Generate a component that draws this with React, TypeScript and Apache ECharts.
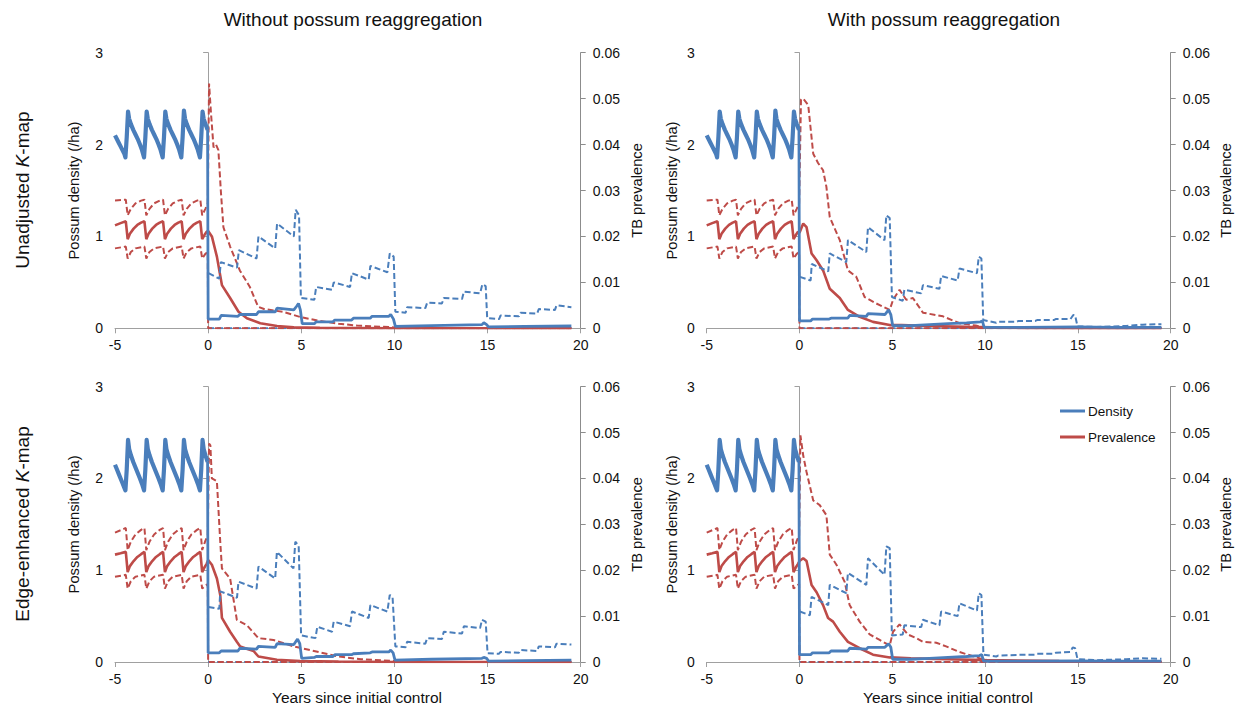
import React, { useEffect, useRef } from "react";
import * as echarts from "echarts";

const FONT = "'Liberation Sans', Arial, sans-serif";
const BLUE = "#4a7ebb";
const RED = "#be4b48";
const AXIS = "#a0a0a0";

const X_TICKS = [-5, 20, 5];
const COL_TITLES = ["Without possum reaggregation", "With possum reaggregation"];
const ROW_TITLES = [["Unadjusted ", "K", "-map"], ["Edge-enhanced ", "K", "-map"]];
const LEFT_NAME = "Possum density (/ha)";
const RIGHT_NAME = "TB prevalence";
const X_NAME = "Years since initial control";
const LEGEND = ["Density", "Prevalence"];

// ---- pre-control (years -5..0) ----
const DENS_PRE_TOP = [
  [-5, 2.1], [-4.9, 2.06], [-4.8, 2.02], [-4.7, 1.98], [-4.6, 1.94], [-4.5, 1.9], [-4.44, 1.86],
  [-4.37, 2.08], [-4.3, 2.36], [-4.24, 2.28], [-4.14, 2.22], [-4.02, 2.16], [-3.9, 2.11], [-3.78, 2.06], [-3.66, 2.0], [-3.55, 1.94], [-3.44, 1.86],
  [-3.37, 2.08], [-3.3, 2.36], [-3.24, 2.28], [-3.14, 2.22], [-3.02, 2.16], [-2.9, 2.11], [-2.78, 2.06], [-2.66, 2.0], [-2.55, 1.94], [-2.44, 1.86],
  [-2.37, 2.08], [-2.3, 2.36], [-2.24, 2.28], [-2.14, 2.22], [-2.02, 2.16], [-1.9, 2.11], [-1.78, 2.06], [-1.66, 2.0], [-1.55, 1.94], [-1.44, 1.86],
  [-1.37, 2.08], [-1.3, 2.37], [-1.24, 2.28], [-1.14, 2.22], [-1.02, 2.16], [-0.9, 2.11], [-0.78, 2.06], [-0.66, 2.0], [-0.55, 1.94], [-0.44, 1.86],
  [-0.37, 2.08], [-0.3, 2.36], [-0.24, 2.28], [-0.14, 2.22], [-0.03, 2.16],
];
const DENS_PRE_BOT = [
  [-5, 2.15], [-4.9, 2.1], [-4.8, 2.05], [-4.7, 2.0], [-4.6, 1.95], [-4.5, 1.9], [-4.44, 1.87],
  [-4.37, 2.1], [-4.3, 2.42], [-4.24, 2.32], [-4.14, 2.25], [-4.02, 2.18], [-3.9, 2.12], [-3.78, 2.06], [-3.66, 2.0], [-3.55, 1.94], [-3.44, 1.87],
  [-3.37, 2.1], [-3.3, 2.42], [-3.24, 2.32], [-3.14, 2.25], [-3.02, 2.18], [-2.9, 2.12], [-2.78, 2.06], [-2.66, 2.0], [-2.55, 1.94], [-2.44, 1.87],
  [-2.37, 2.1], [-2.3, 2.42], [-2.24, 2.32], [-2.14, 2.25], [-2.02, 2.18], [-1.9, 2.12], [-1.78, 2.06], [-1.66, 2.0], [-1.55, 1.94], [-1.44, 1.87],
  [-1.37, 2.1], [-1.3, 2.42], [-1.24, 2.32], [-1.14, 2.25], [-1.02, 2.18], [-0.9, 2.12], [-0.78, 2.06], [-0.66, 2.0], [-0.55, 1.94], [-0.44, 1.87],
  [-0.37, 2.1], [-0.3, 2.42], [-0.24, 2.32], [-0.14, 2.25], [-0.03, 2.18],
];
const PREV_PRE_TOP = [
  [-5, 0.0224], [-4.7, 0.0229], [-4.42, 0.0233], [-4.32, 0.0194], [-4.2, 0.0206], [-4.0, 0.0217], [-3.8, 0.0225], [-3.6, 0.023], [-3.42, 0.0233],
  [-3.32, 0.0194], [-3.2, 0.0206], [-3.0, 0.0217], [-2.8, 0.0225], [-2.6, 0.023], [-2.42, 0.0233],
  [-2.32, 0.0194], [-2.2, 0.0206], [-2.0, 0.0217], [-1.8, 0.0225], [-1.6, 0.023], [-1.42, 0.0233],
  [-1.32, 0.0194], [-1.2, 0.0206], [-1.0, 0.0217], [-0.8, 0.0225], [-0.6, 0.023], [-0.42, 0.0233],
  [-0.32, 0.0194], [-0.2, 0.0203], [-0.08, 0.021],
];
const PREV_UP_PRE_TOP = [
  [-5, 0.0278], [-4.42, 0.028], [-4.32, 0.0246], [-4.15, 0.026], [-3.9, 0.0272], [-3.6, 0.0278], [-3.42, 0.028],
  [-3.32, 0.0246], [-3.15, 0.026], [-2.9, 0.0272], [-2.6, 0.0278], [-2.42, 0.028],
  [-2.32, 0.0246], [-2.15, 0.026], [-1.9, 0.0272], [-1.6, 0.0278], [-1.42, 0.028],
  [-1.32, 0.0246], [-1.15, 0.026], [-0.9, 0.0272], [-0.6, 0.0278], [-0.42, 0.028],
  [-0.32, 0.0246], [-0.15, 0.026], [-0.02, 0.0272],
];
const PREV_LO_PRE_TOP = [
  [-5, 0.0174], [-4.42, 0.0178], [-4.32, 0.0152], [-4.15, 0.0166], [-3.9, 0.0174], [-3.42, 0.0178],
  [-3.32, 0.0152], [-3.15, 0.0166], [-2.9, 0.0174], [-2.42, 0.0178],
  [-2.32, 0.0152], [-2.15, 0.0166], [-1.9, 0.0174], [-1.42, 0.0178],
  [-1.32, 0.0152], [-1.15, 0.0166], [-0.9, 0.0174], [-0.42, 0.0178],
  [-0.32, 0.0152], [-0.15, 0.0162], [-0.02, 0.0166],
];
const PREV_PRE_BOT = [
  [-5, 0.0234], [-4.7, 0.0237], [-4.42, 0.024], [-4.32, 0.0196], [-4.2, 0.0209], [-4.0, 0.022], [-3.8, 0.0229], [-3.6, 0.0235], [-3.42, 0.024],
  [-3.32, 0.0196], [-3.2, 0.0209], [-3.0, 0.022], [-2.8, 0.0229], [-2.6, 0.0235], [-2.42, 0.024],
  [-2.32, 0.0196], [-2.2, 0.0209], [-2.0, 0.022], [-1.8, 0.0229], [-1.6, 0.0235], [-1.42, 0.024],
  [-1.32, 0.0196], [-1.2, 0.0209], [-1.0, 0.022], [-0.8, 0.0229], [-0.6, 0.0235], [-0.42, 0.024],
  [-0.32, 0.0196], [-0.2, 0.0206], [-0.08, 0.0214],
];
const PREV_UP_PRE_BOT = [
  [-5, 0.0282], [-4.42, 0.0292], [-4.32, 0.0244], [-4.15, 0.0262], [-3.9, 0.0278], [-3.6, 0.0288], [-3.42, 0.0292],
  [-3.32, 0.0244], [-3.15, 0.0262], [-2.9, 0.0278], [-2.6, 0.0288], [-2.42, 0.0292],
  [-2.32, 0.0244], [-2.15, 0.0262], [-1.9, 0.0278], [-1.6, 0.0288], [-1.42, 0.0292],
  [-1.32, 0.0244], [-1.15, 0.0262], [-0.9, 0.0278], [-0.6, 0.0288], [-0.42, 0.0292],
  [-0.32, 0.0244], [-0.15, 0.0264], [-0.02, 0.0276],
];
const PREV_LO_PRE_BOT = [
  [-5, 0.0186], [-4.42, 0.019], [-4.32, 0.016], [-4.15, 0.0176], [-3.9, 0.0186], [-3.42, 0.019],
  [-3.32, 0.016], [-3.15, 0.0176], [-2.9, 0.0186], [-2.42, 0.019],
  [-2.32, 0.016], [-2.15, 0.0176], [-1.9, 0.0186], [-1.42, 0.019],
  [-1.32, 0.016], [-1.15, 0.0176], [-0.9, 0.0186], [-0.42, 0.019],
  [-0.32, 0.016], [-0.15, 0.0166], [-0.02, 0.017],
];
const ZERO_POST = [[0, 0], [19.5, 0]];

// ---- panel 1: unadjusted, without reaggregation ----
const P1_DENS = [
  [0, 0.1], [0.6, 0.1], [0.7, 0.14], [1.6, 0.13], [1.7, 0.15], [2.6, 0.15], [2.7, 0.18], [3.6, 0.18], [3.7, 0.22], [4.6, 0.2],
  [4.75, 0.24], [4.85, 0.27], [4.95, 0.2], [5.05, 0.05], [5.7, 0.05], [5.8, 0.07], [6.7, 0.07], [6.8, 0.09], [7.7, 0.09], [7.8, 0.11],
  [8.7, 0.11], [8.8, 0.13], [9.7, 0.13], [9.8, 0.15], [9.95, 0.1], [10.05, 0.02], [12, 0.03], [14.7, 0.04], [14.8, 0.06], [14.95, 0.04],
  [15.05, 0.015], [17, 0.02], [19.5, 0.025],
];
const P1_DENS_UP = [
  [0.02, 0.6], [0.6, 0.54], [0.68, 0.72], [1.55, 0.66], [1.65, 0.85], [2.6, 0.76], [2.7, 1.0], [3.6, 0.87], [3.7, 1.14], [4.6, 1.0],
  [4.7, 1.29], [4.88, 1.23], [4.98, 0.33], [5.7, 0.31], [5.8, 0.45], [6.65, 0.42], [6.74, 0.5], [7.62, 0.45], [7.72, 0.6], [8.62, 0.53],
  [8.71, 0.68], [9.62, 0.61], [9.75, 0.815], [9.96, 0.78], [10.05, 0.18], [10.6, 0.17], [10.68, 0.23], [11.66, 0.22], [11.76, 0.28],
  [12.55, 0.27], [12.65, 0.33], [13.63, 0.32], [13.73, 0.4], [14.6, 0.38], [14.72, 0.48], [14.9, 0.46], [14.98, 0.11], [15.62, 0.1],
  [15.7, 0.14], [16.68, 0.13], [16.77, 0.17], [17.66, 0.16], [17.75, 0.21], [18.62, 0.2], [18.7, 0.25], [19.5, 0.23],
];
const P1_PREV = [
  [0, 0.0212], [0.2, 0.02], [0.47, 0.0156], [0.74, 0.0094], [1.18, 0.0066], [1.63, 0.0036], [2.08, 0.0022], [2.8, 0.0011],
  [3.7, 0.0005], [4.6, 0.0002], [6, 0.0001], [10, 0], [19.5, 0],
];
const P1_PREV_UP = [
  [0.05, 0.0533], [0.15, 0.047], [0.29, 0.0394], [0.42, 0.04], [0.55, 0.0388], [0.68, 0.03], [0.82, 0.022], [1.18, 0.0178],
  [1.7, 0.0126], [2.24, 0.009], [2.68, 0.0047], [3.0, 0.0042], [4, 0.0036], [5, 0.0024], [6, 0.0016], [7, 0.001], [8, 0.0006],
  [10, 0.0002], [12, 0], [19.5, 0],
];

// ---- panel 2: unadjusted, with reaggregation ----
const P2_DENS = [
  [0, 0.08], [0.6, 0.08], [0.7, 0.1], [1.6, 0.1], [1.7, 0.11], [2.6, 0.11], [2.7, 0.14], [3.6, 0.13], [3.7, 0.16], [4.6, 0.15],
  [4.8, 0.2], [4.92, 0.15], [5.02, 0.03], [6, 0.03], [7, 0.04], [8, 0.05], [9, 0.06], [9.75, 0.07], [9.85, 0.08], [9.95, 0.01],
  [12, 0.01], [15, 0.015], [17, 0.01], [19.5, 0.01],
];
const P2_DENS_UP = [
  [0.02, 0.56], [0.6, 0.52], [0.66, 0.7], [1.55, 0.62], [1.63, 0.815], [2.52, 0.72], [2.61, 0.96], [3.6, 0.83], [3.69, 1.1], [4.58, 0.96],
  [4.68, 1.23], [4.86, 1.2], [4.98, 0.34], [5.56, 0.3], [5.65, 0.42], [6.56, 0.38], [6.65, 0.47], [7.54, 0.43], [7.63, 0.57],
  [8.52, 0.52], [8.62, 0.65], [9.56, 0.6], [9.66, 0.78], [9.8, 0.76], [9.9, 0.09], [10.6, 0.06], [10.7, 0.07], [11.7, 0.07],
  [11.8, 0.08], [12.7, 0.08], [12.8, 0.09], [13.7, 0.09], [13.8, 0.1], [14.6, 0.1], [14.75, 0.145], [14.85, 0.14], [14.98, 0.02],
  [16, 0.015], [17.6, 0.025], [18.5, 0.04], [19.5, 0.045],
];
const P2_PREV = [
  [0, 0.0208], [0.2, 0.0228], [0.38, 0.022], [0.65, 0.0163], [0.92, 0.0148], [1.27, 0.0126], [1.63, 0.0086], [2.17, 0.0066],
  [2.61, 0.004], [3.24, 0.0025], [3.96, 0.0014], [4.86, 0.0007], [5.5, 0.0007], [7, 0.0005], [9, 0.0003], [12, 0.0001], [15, 0], [19.5, 0],
];
const P2_PREV_UP = [
  [0.08, 0.0498], [0.2, 0.05], [0.47, 0.0486], [0.74, 0.038], [1.0, 0.036], [1.27, 0.0344], [1.45, 0.0308], [1.63, 0.0242],
  [2.17, 0.0192], [2.61, 0.0126], [3.06, 0.0112], [3.51, 0.0068], [4.14, 0.0054], [4.86, 0.004], [5.04, 0.0062], [5.39, 0.0084],
  [5.75, 0.0062], [6.11, 0.0066], [6.65, 0.0034], [7.73, 0.0026], [8.62, 0.0011], [9.5, 0.0006], [10, 0.0002], [11, 0], [19.5, 0],
];

// ---- panel 3: edge-enhanced, without reaggregation ----
const P3_DENS = [
  [0, 0.1], [0.6, 0.1], [0.7, 0.12], [1.6, 0.12], [1.7, 0.15], [2.6, 0.14], [2.7, 0.17], [3.6, 0.16], [3.7, 0.2], [4.6, 0.19],
  [4.8, 0.25], [4.92, 0.2], [5.02, 0.04], [5.7, 0.05], [5.8, 0.06], [6.7, 0.06], [6.8, 0.08], [7.7, 0.08], [7.8, 0.09], [8.7, 0.1],
  [8.8, 0.11], [9.7, 0.11], [9.8, 0.13], [9.93, 0.1], [10.03, 0.02], [12, 0.03], [14.7, 0.04], [14.8, 0.05], [14.95, 0.04],
  [15.05, 0.01], [17, 0.015], [19.5, 0.02],
];
const P3_DENS_UP = [
  [0.02, 0.6], [0.6, 0.58], [0.65, 0.77], [1.55, 0.7], [1.63, 0.875], [2.6, 0.8], [2.7, 1.04], [3.6, 0.91], [3.69, 1.2], [4.58, 1.02],
  [4.68, 1.31], [4.86, 1.27], [4.99, 0.29], [5.76, 0.26], [5.86, 0.385], [6.65, 0.33], [6.74, 0.44], [7.62, 0.39], [7.72, 0.55],
  [8.62, 0.48], [8.71, 0.62], [9.62, 0.55], [9.75, 0.73], [9.9, 0.71], [10.05, 0.17], [10.6, 0.16], [10.68, 0.22], [11.66, 0.2],
  [11.76, 0.26], [12.55, 0.25], [12.65, 0.33], [13.63, 0.31], [13.73, 0.39], [14.6, 0.37], [14.7, 0.46], [14.9, 0.44], [15.0, 0.095],
  [15.62, 0.09], [15.7, 0.11], [16.68, 0.1], [16.77, 0.13], [17.66, 0.12], [17.75, 0.17], [18.62, 0.16], [18.7, 0.2], [19.5, 0.19],
];
const P3_PREV = [
  [0, 0.0222], [0.2, 0.0212], [0.47, 0.0182], [0.65, 0.0146], [0.74, 0.0096], [1.18, 0.0066], [1.54, 0.0044], [1.72, 0.0034],
  [1.99, 0.003], [2.44, 0.0024], [2.7, 0.0012], [3.69, 0.0005], [4.95, 0.0002], [7, 0.0001], [10, 0], [19.5, 0],
];
const P3_PREV_UP = [
  [0.05, 0.0476], [0.12, 0.0472], [0.2, 0.04], [0.47, 0.0394], [0.65, 0.0262], [0.74, 0.0204], [1.18, 0.0182], [1.54, 0.0092],
  [2.08, 0.008], [2.7, 0.0052], [3.51, 0.0048], [4.59, 0.0034], [5.68, 0.0024], [7, 0.0012], [8.2, 0.0006], [10, 0.0002], [11, 0], [19.5, 0],
];

// ---- panel 4: edge-enhanced, with reaggregation ----
const P4_DENS = [
  [0, 0.08], [0.6, 0.08], [0.7, 0.1], [1.6, 0.1], [1.7, 0.12], [2.6, 0.12], [2.7, 0.15], [3.6, 0.14], [3.7, 0.16], [4.6, 0.16],
  [4.8, 0.2], [4.92, 0.16], [5.02, 0.03], [6, 0.03], [7, 0.04], [8, 0.05], [9, 0.06], [9.7, 0.07], [9.82, 0.08], [9.92, 0.01],
  [12, 0.01], [15, 0.012], [17, 0.01], [19.5, 0.01],
];
const P4_DENS_UP = [
  [0.02, 0.55], [0.56, 0.51], [0.65, 0.71], [1.55, 0.62], [1.63, 0.84], [2.52, 0.75], [2.61, 0.97], [3.6, 0.84], [3.69, 1.13],
  [4.58, 0.95], [4.68, 1.26], [4.86, 1.24], [4.98, 0.29], [5.56, 0.3], [5.65, 0.4], [6.56, 0.38], [6.65, 0.46], [7.54, 0.4],
  [7.63, 0.55], [8.52, 0.5], [8.62, 0.64], [9.56, 0.56], [9.66, 0.75], [9.8, 0.73], [9.91, 0.08], [10.6, 0.06], [10.7, 0.07],
  [11.7, 0.075], [11.8, 0.08], [12.7, 0.08], [12.8, 0.09], [13.7, 0.09], [13.8, 0.1], [14.6, 0.11], [14.72, 0.16], [14.85, 0.15],
  [14.98, 0.03], [16, 0.02], [17.6, 0.03], [18.5, 0.04], [19.5, 0.035],
];
const P4_PREV = [
  [0, 0.022], [0.2, 0.0226], [0.38, 0.022], [0.65, 0.0168], [0.92, 0.0152], [1.27, 0.0124], [1.54, 0.0096], [1.81, 0.0088],
  [2.17, 0.0066], [2.61, 0.0044], [3.24, 0.003], [3.96, 0.0016], [4.86, 0.001], [6, 0.0008], [8, 0.0006], [10, 0.0004],
  [14, 0.0002], [19.5, 0.0001],
];
const P4_PREV_UP = [
  [0.05, 0.0494], [0.2, 0.045], [0.38, 0.0414], [0.74, 0.0352], [1.09, 0.0342], [1.45, 0.032], [1.63, 0.0234], [1.99, 0.0212],
  [2.44, 0.0174], [2.7, 0.0124], [3.24, 0.0088], [3.78, 0.006], [4.32, 0.0048], [4.86, 0.0036], [5.04, 0.0066], [5.39, 0.0082],
  [5.84, 0.006], [6.29, 0.0052], [6.65, 0.0044], [7.37, 0.0042], [7.9, 0.0034], [8.6, 0.0022], [9.87, 0.0006], [10.5, 0.0002],
  [11, 0], [19.5, 0],
];

const PANELS = [
  { densPre: DENS_PRE_TOP, prevPre: PREV_PRE_TOP, upPre: PREV_UP_PRE_TOP, loPre: PREV_LO_PRE_TOP, dens: P1_DENS, densUp: P1_DENS_UP, prev: P1_PREV, prevUp: P1_PREV_UP },
  { densPre: DENS_PRE_TOP, prevPre: PREV_PRE_TOP, upPre: PREV_UP_PRE_TOP, loPre: PREV_LO_PRE_TOP, dens: P2_DENS, densUp: P2_DENS_UP, prev: P2_PREV, prevUp: P2_PREV_UP },
  { densPre: DENS_PRE_BOT, prevPre: PREV_PRE_BOT, upPre: PREV_UP_PRE_BOT, loPre: PREV_LO_PRE_BOT, dens: P3_DENS, densUp: P3_DENS_UP, prev: P3_PREV, prevUp: P3_PREV_UP },
  { densPre: DENS_PRE_BOT, prevPre: PREV_PRE_BOT, upPre: PREV_UP_PRE_BOT, loPre: PREV_LO_PRE_BOT, dens: P4_DENS, densUp: P4_DENS_UP, prev: P4_PREV, prevUp: P4_PREV_UP },
];

const GRIDS = [
  { left: 115, top: 52.7, width: 465.7, height: 275.6 },
  { left: 706.7, top: 52.7, width: 464, height: 275.6 },
  { left: 115, top: 386.7, width: 465.7, height: 275.3 },
  { left: 706.7, top: 386.7, width: 464, height: 275.3 },
];

function buildOption() {
  const xAxis: any[] = [];
  const yAxis: any[] = [];
  const series: any[] = [];
  const tickLabel = { fontSize: 14, color: "#111", fontFamily: FONT };
  GRIDS.forEach((g, i) => {
    xAxis.push({
      type: "value", gridIndex: i, min: X_TICKS[0], max: X_TICKS[1], interval: X_TICKS[2],
      axisLine: { onZero: false, lineStyle: { color: AXIS, width: 1 } },
      axisTick: { show: true, length: 5, lineStyle: { color: AXIS } },
      axisLabel: { ...tickLabel, margin: 10 },
      splitLine: { show: false },
    });
    yAxis.push({
      type: "value", gridIndex: i, position: "left", min: 0, max: 3, interval: 1,
      axisLine: { show: true, lineStyle: { color: AXIS, width: 1 } },
      axisTick: { show: true, length: 5, lineStyle: { color: AXIS } },
      axisLabel: { ...tickLabel, margin: 12 },
      splitLine: { show: false },
    });
    yAxis.push({
      type: "value", gridIndex: i, position: "right", min: 0, max: 0.06, interval: 0.01,
      axisLine: { show: true, lineStyle: { color: "#8c8c8c", width: 1 } },
      axisTick: { show: true, length: 5, lineStyle: { color: "#8c8c8c" } },
      axisLabel: { ...tickLabel, margin: 12, formatter: (v: number) => (v === 0 ? "0" : v.toFixed(2)) },
      splitLine: { show: false },
    });
    const p = PANELS[i];
    const base = { type: "line", xAxisIndex: i, symbol: "none", showSymbol: false, silent: true };
    const dash = { width: 2, type: [6, 3] };
    const densPost = [p.densPre[p.densPre.length - 1], ...p.dens];
    series.push({ ...base, name: "Density lower", yAxisIndex: 2 * i, data: ZERO_POST, lineStyle: { color: BLUE, ...dash } });
    series.push({ ...base, name: "Prevalence lower", yAxisIndex: 2 * i + 1, data: [...p.loPre, ...ZERO_POST], lineStyle: { color: RED, ...dash } });
    series.push({ ...base, name: "Prevalence upper", yAxisIndex: 2 * i + 1, data: [...p.upPre, ...p.prevUp], lineStyle: { color: RED, ...dash } });
    series.push({ ...base, name: "Prevalence", yAxisIndex: 2 * i + 1, data: [...p.prevPre, ...p.prev], lineStyle: { color: RED, width: 2.6 } });
    series.push({ ...base, name: "Density upper", yAxisIndex: 2 * i, data: p.densUp, lineStyle: { color: BLUE, ...dash } });
    series.push({ ...base, name: "Density", yAxisIndex: 2 * i, data: densPost, lineStyle: { color: BLUE, width: 2.8 } });
    series.push({ ...base, name: "Density pre-control", yAxisIndex: 2 * i, data: p.densPre, lineStyle: { color: BLUE, width: 4.2, join: "round" } });
  });

  const txt = (text: string, x: number, y: number, size: number, rot = 0, align = "center") => ({
    type: "text", x, y, rotation: rot, silent: true,
    style: { text, fontSize: size, fontFamily: FONT, fill: "#111", textAlign: align, textVerticalAlign: "middle" },
  });
  const rowTxt = (parts: string[], x: number, y: number) => ({
    type: "text", x, y, rotation: Math.PI / 2, silent: true,
    style: {
      text: `{n|${parts[0]}}{i|${parts[1]}}{n|${parts[2]}}`,
      fontSize: 19, fontFamily: FONT, fill: "#111", textAlign: "center", textVerticalAlign: "middle",
      rich: { n: { fontSize: 19, fontFamily: FONT, fill: "#111" }, i: { fontSize: 19, fontFamily: FONT, fontStyle: "italic", fill: "#111" } },
    },
  });
  const legendLine = (y: number, color: string) => ({
    type: "line", silent: true, shape: { x1: 1060, y1: y, x2: 1085, y2: y }, style: { stroke: color, lineWidth: 3 },
  });
  const graphic = [
    txt(COL_TITLES[0], 353, 19, 19),
    txt(COL_TITLES[1], 944, 19, 19),
    rowTxt(ROW_TITLES[0], 22, 190),
    rowTxt(ROW_TITLES[1], 22, 524),
    txt(LEFT_NAME, 74, 190.5, 14.7, Math.PI / 2),
    txt(LEFT_NAME, 672, 190.5, 14.7, Math.PI / 2),
    txt(LEFT_NAME, 74, 524.4, 14.7, Math.PI / 2),
    txt(LEFT_NAME, 672, 524.4, 14.7, Math.PI / 2),
    txt(RIGHT_NAME, 637, 190.5, 14.7, Math.PI / 2),
    txt(RIGHT_NAME, 1226, 190.5, 14.7, Math.PI / 2),
    txt(RIGHT_NAME, 637, 524.4, 14.7, Math.PI / 2),
    txt(RIGHT_NAME, 1226, 524.4, 14.7, Math.PI / 2),
    txt(X_NAME, 357, 697, 15.5),
    txt(X_NAME, 948, 697, 15.5),
    legendLine(411, BLUE),
    txt(LEGEND[0], 1088, 411, 13.5, 0, "left"),
    legendLine(437, RED),
    txt(LEGEND[1], 1088, 437, 13.5, 0, "left"),
  ];

  return {
    animation: false,
    backgroundColor: "#ffffff",
    grid: GRIDS.map((g) => ({ ...g, containLabel: false })),
    xAxis, yAxis, series, graphic,
  };
}

export default function App() {
  const ref = useRef<HTMLDivElement>(null);
  useEffect(() => {
    document.body.style.margin = "0";
    if (!ref.current) return;
    const chart = echarts.init(ref.current, undefined, { renderer: "svg" });
    chart.setOption(buildOption() as any);
    return () => chart.dispose();
  }, []);
  return <div ref={ref} style={{ width: 1242, height: 707 }} />;
}
